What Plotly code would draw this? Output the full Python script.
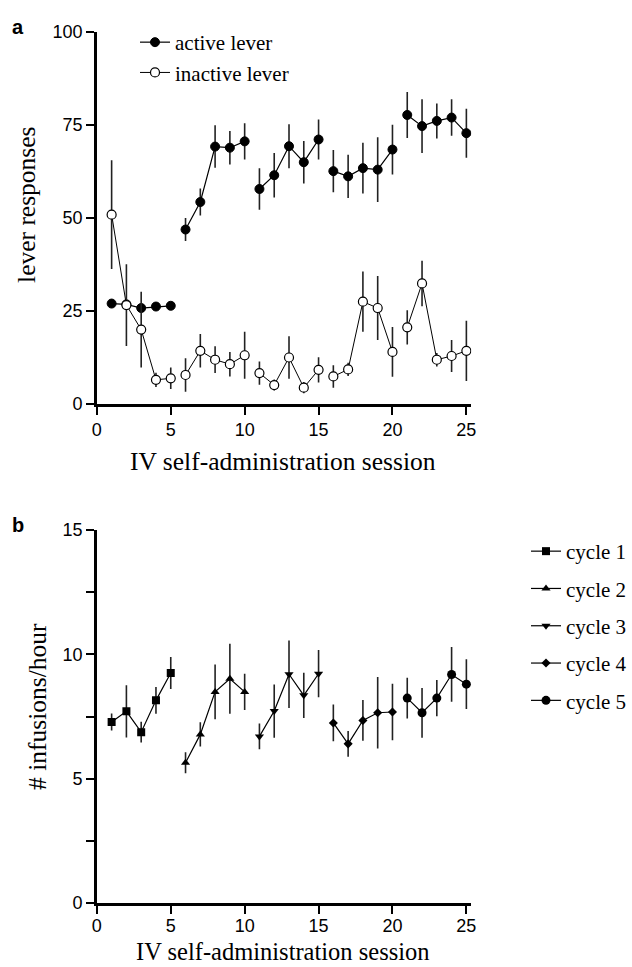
import plotly.graph_objects as go

# ---------------- data ----------------
sessions = list(range(1, 26))
cycle_len = 5

active_mean = [27.0, 26.8, 25.8, 26.2, 26.4, 46.9, 54.3, 69.2, 68.9, 70.6,
               57.8, 61.5, 69.3, 65.0, 71.1, 62.6, 61.2, 63.4, 63.0, 68.4,
               77.7, 74.7, 76.1, 77.0, 72.8]
active_sem = [0.6, 0.8, 1.0, 0.6, 0.6, 3.1, 3.6, 5.7, 4.5, 4.9,
              5.6, 6.0, 5.9, 5.7, 5.4, 5.7, 5.8, 6.8, 8.7, 6.7,
              6.2, 7.2, 4.7, 4.9, 6.6]
inactive_mean = [50.9, 26.6, 20.0, 6.5, 6.9, 7.8, 14.3, 11.9, 10.7, 13.1,
                 8.3, 5.1, 12.5, 4.4, 9.2, 7.4, 9.3, 27.5, 25.8, 14.0,
                 20.6, 32.4, 11.9, 12.9, 14.3]
inactive_sem = [14.6, 11.0, 10.2, 1.9, 2.9, 4.5, 4.5, 3.6, 3.3, 6.3,
                3.1, 1.5, 5.7, 1.5, 3.4, 3.0, 1.8, 8.1, 8.6, 6.7,
                4.6, 6.1, 1.8, 4.3, 8.1]

infusions_mean = [7.28, 7.71, 6.87, 8.15, 9.25, 5.64, 6.78, 8.49, 9.02, 8.49,
                  6.70, 7.72, 9.20, 8.35, 9.22, 7.24, 6.40, 7.34, 7.65, 7.68,
                  8.24, 7.65, 8.24, 9.19, 8.80]
infusions_sem = [0.34, 1.05, 0.42, 0.54, 0.64, 0.42, 0.49, 1.10, 1.41, 0.73,
                 0.52, 1.07, 1.36, 0.91, 0.95, 0.74, 0.52, 0.82, 1.44, 1.14,
                 0.82, 1.00, 0.73, 1.10, 1.00]

cycle_names = ["cycle 1", "cycle 2", "cycle 3", "cycle 4", "cycle 5"]
cycle_symbols = ["square", "triangle-up", "triangle-down", "diamond", "circle"]
cycle_sizes = [8, 8, 8, 7, 9]

x_ticks = [0, 5, 10, 15, 20, 25]
ya_ticks = [0, 25, 50, 75, 100]
yb_ticks = [0, 5, 10, 15]


def with_gaps(vals):
    out = []
    for i, v in enumerate(vals):
        if i > 0 and i % cycle_len == 0:
            out.append(None)
        out.append(v)
    return out


W, H = 632, 967
SERIF = "Liberation Serif, Times New Roman, serif"
SANS = "Liberation Sans, Arial, sans-serif"

fig = go.Figure()

xs = with_gaps(sessions)

fig.add_trace(go.Scatter(
    x=xs, y=with_gaps(active_mean), name="active lever",
    mode="lines+markers", connectgaps=False,
    line=dict(color="black", width=1.2),
    marker=dict(symbol="circle", size=9, color="black",
                line=dict(color="black", width=1)),
    error_y=dict(type="data", array=with_gaps(active_sem), visible=True,
                 color="#222", thickness=1.6, width=0),
    xaxis="x", yaxis="y", legend="legend",
))
fig.add_trace(go.Scatter(
    x=xs, y=with_gaps(inactive_mean), name="inactive lever",
    mode="lines+markers", connectgaps=False,
    line=dict(color="black", width=1),
    marker=dict(symbol="circle", size=9, color="white",
                line=dict(color="black", width=1.2)),
    error_y=dict(type="data", array=with_gaps(inactive_sem), visible=True,
                 color="#222", thickness=1.6, width=0),
    xaxis="x", yaxis="y", legend="legend",
))

for c in range(5):
    s = slice(c * cycle_len, (c + 1) * cycle_len)
    fig.add_trace(go.Scatter(
        x=sessions[s], y=infusions_mean[s], name=cycle_names[c],
        mode="lines+markers", legendgroup=cycle_names[c],
        line=dict(color="black", width=1.2),
        marker=dict(symbol=cycle_symbols[c], size=cycle_sizes[c], color="black"),
        error_y=dict(type="data", array=infusions_sem[s], visible=True,
                     color="#222", thickness=1.6, width=0),
        xaxis="x2", yaxis="y2", legend="legend2",
    ))


def px_x(p):
    return p / W


def px_y(p):
    return 1 - p / H


axis_common = dict(
    showline=True, linecolor="black", linewidth=2.5,
    ticks="outside", ticklen=8, tickwidth=2, tickcolor="black",
    showgrid=False, zeroline=False,
    tickfont=dict(family=SANS, size=18, color="black"),
    automargin=False,
)

fig.update_layout(
    width=W, height=H,
    margin=dict(l=0, r=0, t=0, b=0),
    paper_bgcolor="white", plot_bgcolor="white",
    showlegend=True,
    xaxis=dict(domain=[px_x(97), px_x(472)], range=[0, 25.33],
               tickvals=x_ticks, anchor="y", **axis_common),
    yaxis=dict(domain=[px_y(404), px_y(32)], range=[0, 100],
               tickvals=ya_ticks, anchor="x", **axis_common),
    xaxis2=dict(domain=[px_x(97), px_x(472)], range=[0, 25.33],
                tickvals=x_ticks, anchor="y2", ticklabelstandoff=-3,
                **axis_common),
    yaxis2=dict(domain=[px_y(903), px_y(530)], range=[0, 15],
                tickvals=yb_ticks, anchor="x2",
                minor=dict(dtick=2.5, ticks="outside", ticklen=8,
                           tickwidth=1.5, tickcolor="black"),
                **axis_common),
    legend=dict(x=px_x(135), y=px_y(22), xanchor="left", yanchor="top",
                bgcolor="rgba(0,0,0,0)",
                font=dict(family=SERIF, size=21, color="black")),
    legend2=dict(x=px_x(527), y=px_y(531), xanchor="left", yanchor="top",
                 bgcolor="rgba(0,0,0,0)", tracegroupgap=7,
                 traceorder="grouped",
                 font=dict(family=SERIF, size=21, color="black")),
)

annotations = [
    dict(text="<b>a</b>", x=px_x(18.5), y=px_y(27)),
    dict(text="<b>b</b>", x=px_x(18.5), y=px_y(525)),
]
for a in annotations:
    a.update(xref="paper", yref="paper", showarrow=False,
             xanchor="center", yanchor="middle",
             font=dict(family=SANS, size=20, color="black"))

titles = [
    dict(text="IV self-administration session", x=px_x(283), y=px_y(462), size=25.5),
    dict(text="IV self-administration session", x=px_x(283), y=px_y(951.5), size=24.5),
    dict(text="lever responses", x=px_x(26), y=px_y(204), textangle=-90, size=25.5),
    dict(text="# infusions/hour", x=px_x(37), y=px_y(706), textangle=-90, size=25.5),
]
for t in titles:
    sz = t.pop("size")
    t.update(xref="paper", yref="paper", showarrow=False,
             xanchor="center", yanchor="middle",
             font=dict(family=SERIF, size=sz, color="black"))

fig.update_layout(annotations=annotations + titles)

fig.write_html("out.html")
